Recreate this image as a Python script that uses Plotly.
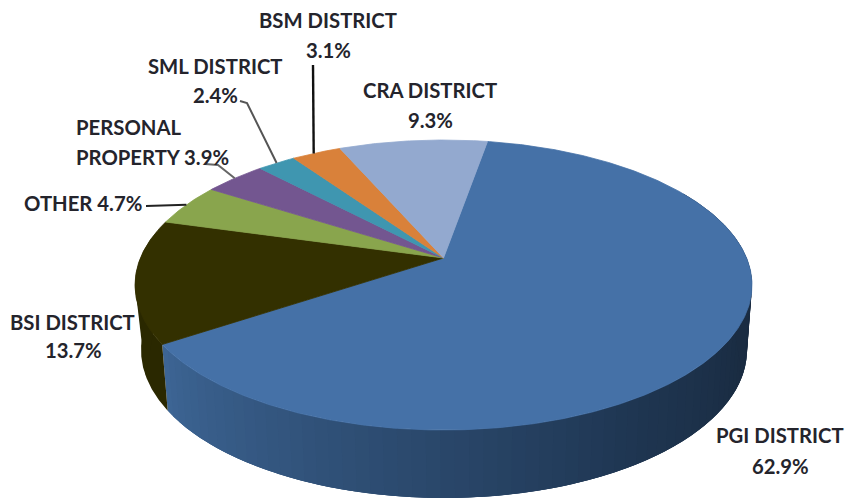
import numpy as np
import plotly.graph_objects as go

# ---- data (clockwise from the top-right edge of the largest slice) ----
categories = ["PGI DISTRICT", "BSI DISTRICT", "OTHER", "PERSONAL PROPERTY",
              "SML DISTRICT", "BSM DISTRICT", "CRA DISTRICT"]
values = [62.9, 13.7, 4.7, 3.9, 2.4, 3.1, 9.3]
colors = ["#4571A7", "#333000", "#89A54D", "#735690", "#3F96B0", "#D9813A", "#93A9CF"]

# ---- projection of the tilted disc onto the page (page pixels as axis units) ----
W, H = 848, 499
CX, CY, RX, RY = 443.5, 285.0, 308.5, 145.0      # top face ellipse
BX, BY, BRX, BRY = 444.0, 350.0, 303.0, 148.0    # bottom rim ellipse
APEX_K = (CY - 258.0) / RY                       # perspective shift of the pie centre
START_DEG = 9.9


def warp(deg):
    """true pie angle (clockwise from up) -> angle on the drawn ellipse"""
    t = np.radians(np.asarray(deg, float))
    x, y = np.sin(t), np.cos(t)
    d = 1 + APEX_K * y
    return np.arctan2(x * np.sqrt(1 - APEX_K ** 2) / d, (y + APEX_K) / d)


def top(a):
    return CX + RX * np.sin(a), CY - RY * np.cos(a)


def rim(a):
    return BX + BRX * np.sin(a), BY - BRY * np.cos(a)


apex = (CX, CY - APEX_K * RY)
shares = np.array(values) / sum(values) * 360
edges = START_DEG + np.concatenate([[0], np.cumsum(shares)])

fig = go.Figure()


def poly(xs, ys, color, name=None, lw=0.8):
    fig.add_trace(go.Scatter(
        x=xs, y=ys, mode="lines", fill="toself", fillcolor=color,
        line=dict(color=color, width=lw), showlegend=False,
        hoverinfo="text" if name else "skip", text=name, hoveron="fills"))


def side(d0, d1, color):
    ang = warp(np.linspace(d0, d1, 12))
    tx, ty = top(ang)
    bx, by = rim(ang)
    poly(np.r_[tx, bx[::-1]], np.r_[ty, by[::-1]], color, lw=0)


def silhouette(sign, color):
    """tangent between the widest point of the top face and the lower rim"""
    a_top, a_rim = sign * np.pi / 2, sign * np.radians(100)
    tx, ty = top(a_top)
    rx, ry = rim(a_rim)
    ix, iy = rim(sign * np.radians(70))
    poly([tx, rx, ix, tx], [ty, ry, iy, ty], color, lw=0)


# side wall of the big slice: shaded from left (lighter) to right (dark);
# drawn far to near with each piece overlapping the next, so no seams show
wall_light = np.array([0x3D, 0x65, 0x94])
wall_mid = np.array([0x1F, 0x36, 0x52])
wall_dark = np.array([0x1A, 0x2C, 0x42])
wall_edges = np.linspace(edges[1], edges[0] + 50, 80)
for i in range(len(wall_edges) - 1):
    f = i / (len(wall_edges) - 2)
    c = wall_light + (wall_mid - wall_light) * f / 0.5 if f < 0.5 \
        else wall_mid + (wall_dark - wall_mid) * min((f - 0.5) / 0.2, 1)
    side(wall_edges[i], wall_edges[min(i + 3, len(wall_edges) - 1)], "rgb(%d,%d,%d)" % tuple(c))
silhouette(1, "#1A2C42")

# side wall of the second slice
side(edges[1], edges[1] + 45, "#2A2800")
silhouette(-1, "#2A2800")

# top faces
for i, (cat, val, col) in enumerate(zip(categories, values, colors)):
    a = warp(np.linspace(edges[i], edges[i + 1], max(int(shares[i] * 2), 8)))
    a = np.unwrap(a)
    px, py = top(a)
    poly(np.r_[apex[0], px, apex[0]], np.r_[apex[1], py, apex[1]], col, f"{cat}: {val}%")


def rim_point(i, f=0.5):
    return top(warp(edges[i] + f * (edges[i + 1] - edges[i])))


# leader lines: from an elbow near the label to a point on the slice's rim
leaders = [
    (5, 0.44, [(313, 65)], "#111111", 2.4),
    (4, 0.5, [(240, 101), (247, 103)], "#555555", 2),
    (3, 0.5, [(205, 164), (218, 165)], "#666666", 2),
    (2, 0.5, [(146, 206)], "#222222", 2),
]
for idx, frac, pts, col, w in leaders:
    mx, my = rim_point(idx, frac)
    fig.add_trace(go.Scatter(
        x=[p[0] for p in pts] + [float(mx)], y=[p[1] for p in pts] + [float(my)],
        mode="lines", line=dict(color=col, width=w), showlegend=False, hoverinfo="skip"))


def pct(i):
    return f"{values[i]}%"


label_rows = [
    ("BSM DISTRICT", 328, 20, "center"), (pct(5), 328, 50, "center"),
    ("SML DISTRICT", 215, 66, "center"), (pct(4), 215, 95, "center"),
    ("CRA DISTRICT", 430, 90, "center"), (pct(6), 430, 120, "center"),
    ("PERSONAL", 74, 127, "left"), (f"PROPERTY {pct(3)}", 74, 157, "left"),
    (f"OTHER {pct(2)}", 22, 203, "left"),
    ("BSI DISTRICT", 72, 322, "center"), (pct(1), 73, 350, "center"),
    ("PGI DISTRICT", 780, 435, "center"), (pct(0), 780, 466, "center"),
]
for text, x, y, anchor in label_rows:
    fig.add_annotation(x=x, y=y, text=text, showarrow=False, xanchor=anchor, yanchor="middle",
                       font=dict(family="Lato", size=20.3, color="#24242c", weight=700))

fig.update_layout(
    width=W, height=H, margin=dict(l=0, r=0, t=0, b=0, pad=0),
    paper_bgcolor="white", plot_bgcolor="white", showlegend=False,
    xaxis=dict(range=[0, W], visible=False, fixedrange=True),
    yaxis=dict(range=[H, 0], visible=False, fixedrange=True),
)
fig.write_html("out.html", config={"displayModeBar": False},
               post_script="document.body.style.margin='0';document.body.style.overflow='hidden';")
